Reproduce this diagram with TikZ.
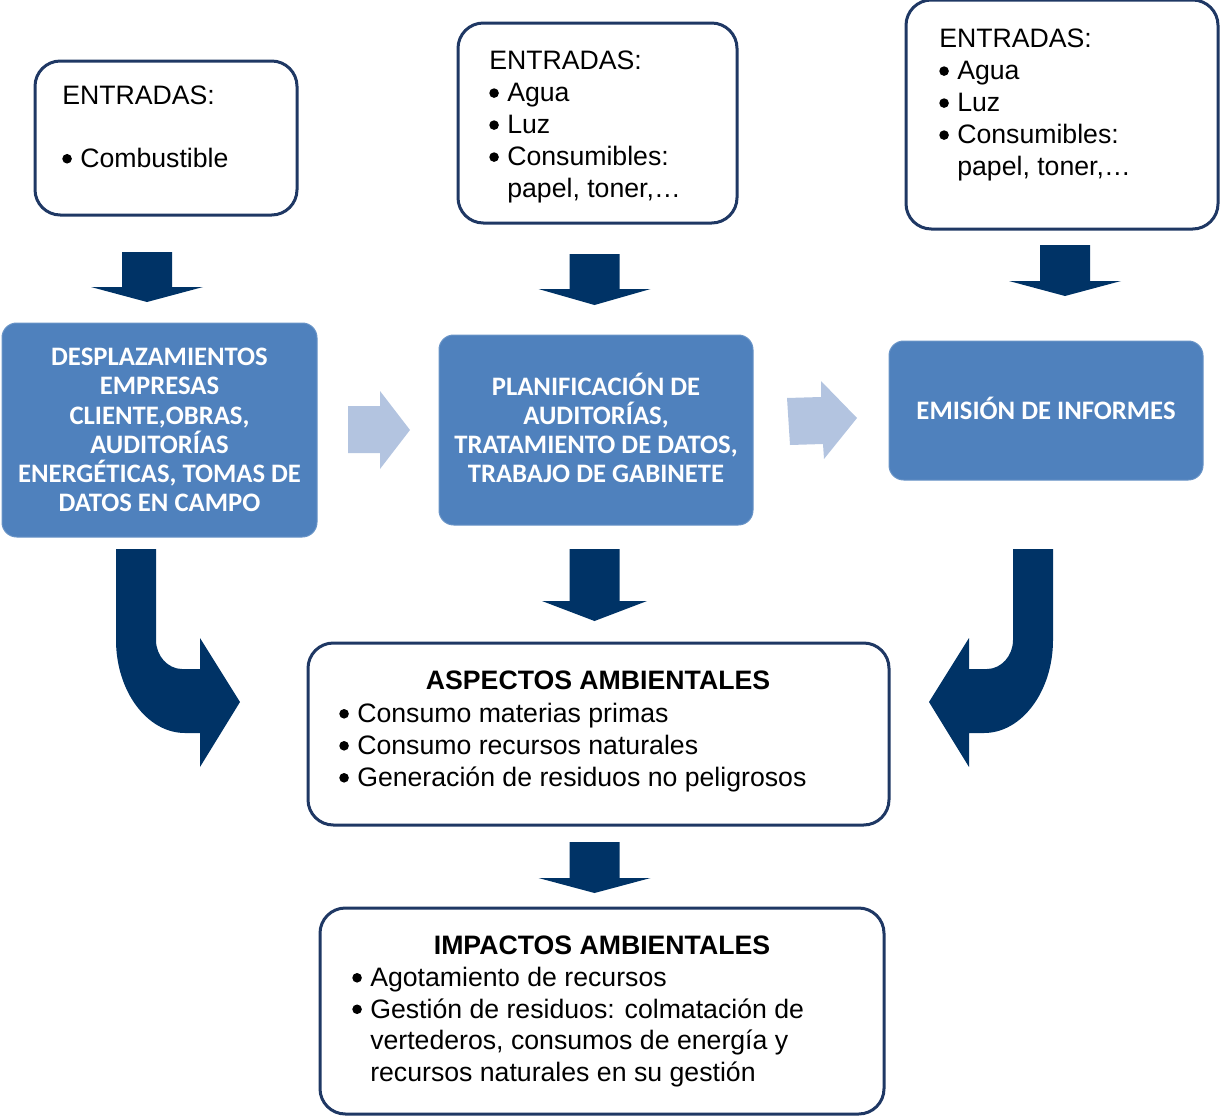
\documentclass[tikz,border=0pt]{standalone}
\usepackage{fontspec}
\setmainfont{Liberation Sans}
\newfontfamily\calfont{Carlito}
\definecolor{navy}{HTML}{003366}
\definecolor{frame}{HTML}{1F3864}
\definecolor{bluebox}{HTML}{4F81BD}
\definecolor{lightarrow}{HTML}{B3C4E0}
\newcommand\bul{\makebox[13.5pt][l]{\tikz[baseline=0pt]\fill (3.7pt,6.6pt) circle (3.6pt);}}
\newcommand\ind{\hspace*{13.5pt}}
\newcommand\darrow[5]{\fill[navy] (#1-25,#2) -- (#1+25,#2) -- (#1+25,#3) -- (#1+#5,#3) -- (#1,#4) -- (#1-#5,#3) -- (#1-25,#3) -- cycle;}
\begin{document}
\begin{tikzpicture}[x=0.75pt,y=-0.75pt,
  inbox/.style={draw=frame, line width=2.25pt, rounded corners=19pt, fill=white, inner sep=0pt},
  bbox/.style={fill=bluebox, draw=bluebox!85!white, line width=0.75pt, rounded corners=11pt, inner sep=0pt},
  btext/.style={text=white, align=center, inner sep=0pt, font=\calfont\bfseries\fontsize{20}{21.9}\selectfont},
  ltext/.style={align=left, anchor=north west, inner sep=0pt, font=\fontsize{20}{24}\selectfont},
  ttext/.style={anchor=base, inner sep=0pt, font=\bfseries\fontsize{20}{24}\selectfont}]
\useasboundingbox (0,0) rectangle (1220,1117);

% input boxes
\node[inbox, minimum width=196.5pt, minimum height=115.5pt] (e1) at (166,138) {};
\node[inbox, minimum width=209.25pt, minimum height=150pt] (e2) at (597.5,123) {};
\node[inbox, minimum width=234pt, minimum height=171.75pt] (e3) at (1062,114.5) {};
\node[ltext] (e1t) at (62,86) {ENTRADAS:\\[23pt]\bul Combustible};
\node[ltext] (e2t) at (489,51) {ENTRADAS:\\\bul Agua\\\bul Luz\\\bul Consumibles:\\\ind papel, toner,…};
\node[ltext] (e3t) at (939,29) {ENTRADAS:\\\bul Agua\\\bul Luz\\\bul Consumibles:\\\ind papel, toner,…};

% down arrows from inputs
\darrow{147}{252}{287}{302}{56}
\darrow{594.5}{254}{289}{305}{56}
\darrow{1065}{245}{281}{296}{56}

% process boxes
\node[bbox, minimum width=236.25pt, minimum height=160.5pt] (b1) at (159.5,430) {};
\node[bbox, minimum width=235.5pt, minimum height=142.5pt] (b2) at (596,430) {};
\node[bbox, minimum width=235.5pt, minimum height=104.25pt] (b3) at (1046,410.5) {};
\node[btext] (b1t) at (b1) {DESPLAZAMIENTOS\\EMPRESAS\\CLIENTE,OBRAS,\\AUDITORÍAS\\ENERGÉTICAS, TOMAS DE\\DATOS EN CAMPO};
\node[btext] (b2t) at ([yshift=1.5pt]b2.center) {PLANIFICACIÓN DE\\AUDITORÍAS,\\TRATAMIENTO DE DATOS,\\TRABAJO DE GABINETE};
\node[btext] (b3t) at ([yshift=1.5pt]b3.center) {EMISIÓN DE INFORMES};

% light arrows
\fill[lightarrow] (348,406) -- (380,406) -- (380,391) -- (410,430) -- (380,469) -- (380,453) -- (348,453) -- cycle;
\fill[lightarrow] (787,398) -- (821,397) -- (821,381) -- (857,418) -- (824,459) -- (823,444) -- (790,445) -- cycle;

% arrows to aspects
\darrow{594.5}{549}{601}{621}{52.5}
\fill[navy] (116,549) -- (156,549) -- (156,640) .. controls (156,656) and (168,669) .. (182,669) -- (200,669) -- (200,638) -- (240,702) -- (200,767) -- (200,733) -- (185,733) .. controls (147,733) and (116,691) .. (116,640) -- cycle;
\fill[navy] (1053,549) -- (1013,549) -- (1013,640) .. controls (1013,656) and (1001,669) .. (987,669) -- (969,669) -- (969,638) -- (929,702) -- (969,767) -- (969,733) -- (984,733) .. controls (1022,733) and (1053,691) .. (1053,640) -- cycle;

% aspects
\node[inbox, minimum width=435.75pt, minimum height=136.5pt] (asp) at (598.5,734) {};
\node[ttext] (aspt) at (598,689) {ASPECTOS AMBIENTALES};
\node[ltext] (aspl) at (339,703) {\bul Consumo materias primas\\\bul Consumo recursos naturales\\\bul Generación de residuos no peligrosos};

\darrow{594.5}{842}{878}{893}{56}

% impacts
\node[inbox, minimum width=423pt, minimum height=154.5pt] (imp) at (602,1011) {};
\node[ttext] (impt) at (602,954) {IMPACTOS AMBIENTALES};
\node[ltext, font=\fontsize{20}{23.6}\selectfont] (impl) at (352,967) {\bul Agotamiento de recursos\\\bul Gestión de residuos: colmatación de\\\ind vertederos, consumos de energía y\\\ind recursos naturales en su gestión};
\end{tikzpicture}
\end{document}
